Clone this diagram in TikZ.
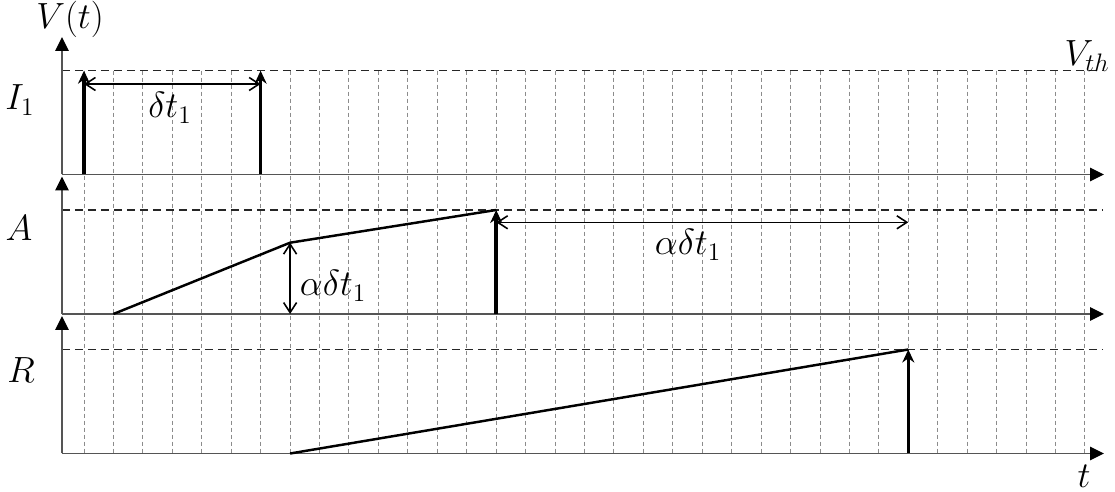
\documentclass[tikz,border=0pt]{standalone}
\usepackage{amsmath,amssymb}
\usetikzlibrary{arrows.meta}
\definecolor{gridgray}{RGB}{140,140,140}
\definecolor{axisgray}{RGB}{85,85,85}

\begin{document}
\begin{tikzpicture}[
    x=0.02cm, y=-0.02cm,
    gridln/.style={gridgray,line width=0.55pt,dash pattern=on 0.8mm off 0.6mm},
    thr/.style={black!85,line width=0.7pt,dash pattern=on 1.6mm off 1mm},
    axisln/.style={axisgray,line width=0.8pt,-{Triangle[length=2.8mm,width=2.7mm,color=black]}},
    spike/.style={line width=2pt,-{Stealth[length=2.6mm,width=2.4mm]}},
    span/.style={line width=0.9pt,{Straight Barb[length=2mm,width=2.6mm]}-{Straight Barb[length=2mm,width=2.6mm]}},
    ramp/.style={line width=1.4pt},
    lab/.style={inner sep=0pt,font=\fontsize{20}{24}\selectfont}
]
\useasboundingbox (0,0) rectangle (1115,492);

% Grid
\foreach \i in {0,...,34}
  \draw[gridln] (84+29.44*\i,70.7) -- (84+29.44*\i,453.5);

% Axes and thresholds
\foreach \b in {174.5,314,453.5} {
  \draw[thr] (62,\b-104) -- (1103,\b-104);
  \draw[axisln] (62,\b) -- (1104,\b);
  \draw[axisln] (62,\b) -- (62,\b-137.5);
}
\node[lab] (vt) at (70,19) {$V(t)$};
\node[lab] (vth) at (1087,56) {$V_{th}$};
\node[lab] (tlab) at (1084,476) {$t$};

% Input I_1
\coordinate (ia) at (84,174.5);
\coordinate (iat) at (84,70.7);
\coordinate (ib) at (260.6,174.5);
\coordinate (ibt) at (260.6,70.7);
\coordinate (da) at (84,84);
\coordinate (db) at (260.6,84);
\draw[spike] (ia) -- (iat);
\draw[spike] (ib) -- (ibt);
\draw[span] (da) -- (db);
\node[lab] (ione) at (20,100) {$I_1$};
\node[lab] (dt) at (170,108) {$\delta t_1$};

% Neuron A
\coordinate (a0) at (113.4,314);
\coordinate (ak) at (290.1,242.7);
\coordinate (akb) at (290.1,314);
\coordinate (af) at (496.2,210);
\coordinate (afb) at (496.2,314);
\coordinate (ha) at (496.2,222.3);
\coordinate (hb) at (908.3,222.3);
\draw[ramp] (a0) -- (ak) -- (af);
\draw[spike] (afb) -- (af);
\draw[span] (ak) -- (akb);
\draw[span] (ha) -- (hb);
\node[lab] (alab) at (19,228) {$A$};
\node[lab] (adv) at (333,286) {$\alpha\delta t_1$};
\node[lab] (adh) at (688,245) {$\alpha\delta t_1$};

% Neuron R
\coordinate (r0) at (290.1,453.5);
\coordinate (rf) at (908.3,349.5);
\coordinate (rfb) at (908.3,453.5);
\draw[ramp] (r0) -- (rf);
\draw[spike] (rfb) -- (rf);
\node[lab] (rlab) at (21,370) {$R$};
\end{tikzpicture}
\end{document}
